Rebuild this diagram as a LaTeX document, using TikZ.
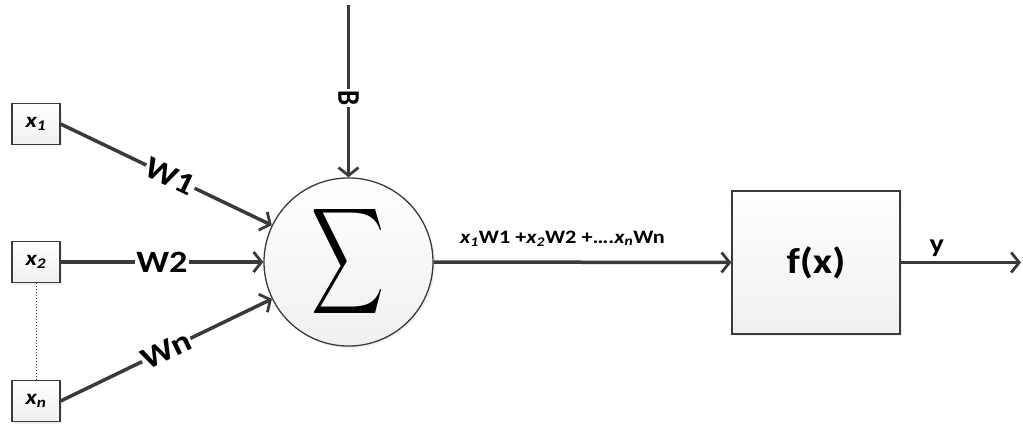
\documentclass[tikz,border=0pt]{standalone}
\usepackage{fontspec}
\setmainfont{Carlito}
\usetikzlibrary{arrows.meta,shapes.geometric,shadows}
\definecolor{ln}{HTML}{3A3A3A}
\newcommand{\wide}[1]{\scalebox{1.17}[1]{#1}}
\tikzset{
  conn/.style={draw=ln, line width=3.5pt, -{Straight Barb[length=8pt,width=20pt,line width=2.8pt]}},
  shd/.style={drop shadow={opacity=0.12, shadow xshift=2pt, shadow yshift=-2pt}},
  inbox/.style={draw=ln, line width=1.3pt, top color=white, bottom color=gray!12, shd, minimum width=48pt, minimum height=41pt, inner sep=0pt, font=\bfseries\itshape\fontsize{21}{21}\selectfont},
  wlab/.style={fill=white, inner sep=1pt, font=\bfseries\fontsize{31}{31}\selectfont},
}
\begin{document}
\begin{tikzpicture}[x=1pt,y=-1pt]
\useasboundingbox (0,0) rectangle (1023,425);
\node[inbox] (x1) at (36,124) {\wide{x\textsubscript{1}}};
\node[inbox] (x2) at (36,262) {\wide{x\textsubscript{2}}};
\node[inbox] (xn) at (36,401) {\wide{x\textsubscript{n}}};
\node[ellipse, draw=ln, line width=1.3pt, top color=white, bottom color=gray!12, shd, minimum width=169pt, minimum height=144pt, inner sep=0pt] (sig) at (348.5,262) {\resizebox{73pt}{78pt}{$\displaystyle\sum$}};
\node[draw=ln, line width=1.3pt, top color=white, bottom color=gray!12, shd, minimum width=168pt, minimum height=143pt, inner sep=0pt, font=\bfseries\fontsize{36}{36}\selectfont] (fx) at (816,262.5) {\wide{f(x)}};
\coordinate (btop) at (348.5,5);
\coordinate (out) at (1021,262.5);
\draw[dotted, draw=ln, line width=1pt] (x2.south) -- (xn.north);
\draw[conn] (x1.east) -- node[wlab, sloped, pos=0.52] {\wide{W1}} (sig);
\draw[conn] (x2.east) -- node[wlab, pos=0.5] {\wide{W2}} (sig.west);
\draw[conn] (xn.east) -- node[wlab, sloped, pos=0.5] {\wide{Wn}} (sig);
\draw[conn] (btop) -- node[fill=white, inner sep=1pt, pos=0.54, font=\bfseries\fontsize{27}{27}\selectfont] {\wide{\rotatebox{-90}{B}}} (sig.north);
\draw[conn] (sig.east) -- node[above=11pt, xshift=-20pt, font=\bfseries\fontsize{19}{19}\selectfont] {\wide{{\itshape x\textsubscript{1}}W1 +{\itshape x\textsubscript{2}}W2 +….{\itshape x\textsubscript{n}}Wn}} (fx.west);
\draw[conn] (fx.east) -- node[above=1pt, pos=0.3, font=\bfseries\fontsize{26}{26}\selectfont] {\wide{y}} (out);
\end{tikzpicture}
\end{document}
